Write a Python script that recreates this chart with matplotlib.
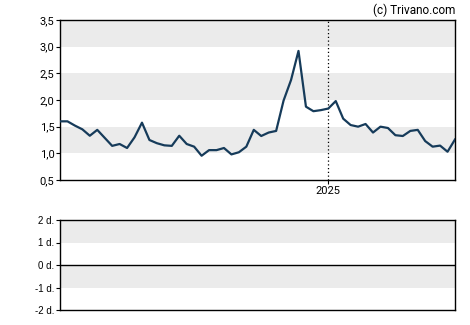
import matplotlib

matplotlib.use("Agg")
import matplotlib.pyplot as plt
import matplotlib.dates as mdates
import numpy as np
import pandas as pd

# weekly closing prices
prices = [1.60, 1.60, 1.52, 1.45, 1.33, 1.44, 1.29, 1.14, 1.175, 1.10,
          1.30, 1.575, 1.25, 1.19, 1.15, 1.14, 1.33, 1.175, 1.125, 0.955,
          1.06, 1.06, 1.10, 0.98, 1.02, 1.125, 1.44, 1.325, 1.39, 1.42,
          1.99, 2.375, 2.92, 1.875, 1.79, 1.81, 1.84, 1.98, 1.65, 1.53,
          1.50, 1.55, 1.39, 1.50, 1.475, 1.34, 1.325, 1.42, 1.44, 1.23,
          1.125, 1.145, 1.03, 1.26]
dates = pd.date_range("2024-04-24", periods=len(prices), freq="7D")
year_mark = pd.Timestamp("2025-01-01")

price_ticks = [0.5, 1.0, 1.5, 2.0, 2.5, 3.0, 3.5]
price_bands = [(1.0, 1.5), (2.0, 2.5), (3.0, 3.5)]
sub_ticks = [-2, -1, 0, 1, 2]
sub_labels = ["-2 d.", "-1 d.", "0 d.", "1 d.", "2 d."]
sub_bands = [(-1, 0), (1, 2)]

LINE = "#163b5a"
BAND = "#ebebeb"

fig = plt.figure(figsize=(4.7, 3.25), dpi=100)
ax = fig.add_axes([60 / 470, 145 / 325, 395 / 470, 160 / 325])
ax2 = fig.add_axes([60 / 470, 15 / 325, 395 / 470, 90 / 325])

# --- price panel ---
for lo, hi in price_bands:
    ax.axhspan(lo, hi, color=BAND, lw=0, zorder=0)
ax.plot(dates, prices, color=LINE, lw=1.6, zorder=3)
ax.axvline(year_mark, color="black", lw=0.9, ls=(0, (1, 2)), zorder=2)
ax.set_xlim(dates[0], dates[-1])
ax.set_ylim(0.5, 3.5)
ax.set_yticks(price_ticks)
ax.set_yticklabels([f"{v:.1f}".replace(".", ",") for v in price_ticks],
                   family="Roboto", fontsize=8)
ax.set_xticks([year_mark])
ax.xaxis.set_major_formatter(mdates.DateFormatter("%Y"))
for lab in ax.get_xticklabels():
    lab.set_family("Roboto")
    lab.set_fontsize(8)
ax.tick_params(length=3, width=0.8, pad=1, color="black")

ax.text(1.0, 1.02, "(c) Trivano.com", transform=ax.transAxes,
        ha="right", va="bottom", family="Roboto", fontsize=8.5)

# --- lower panel ---
for lo, hi in sub_bands:
    ax2.axhspan(lo, hi, color=BAND, lw=0, zorder=0)
ax2.axhline(0, color="black", lw=1)
ax2.set_xlim(dates[0], dates[-1])
ax2.set_ylim(-2, 2)
ax2.set_yticks(sub_ticks)
ax2.set_yticklabels(sub_labels, family="Liberation Sans", fontsize=7)
ax2.set_xticks([])
ax2.tick_params(length=3, width=0.8, pad=1)

for a in (ax, ax2):
    for sp in a.spines.values():
        sp.set_linewidth(1)

fig.savefig("out.png", dpi=100)
